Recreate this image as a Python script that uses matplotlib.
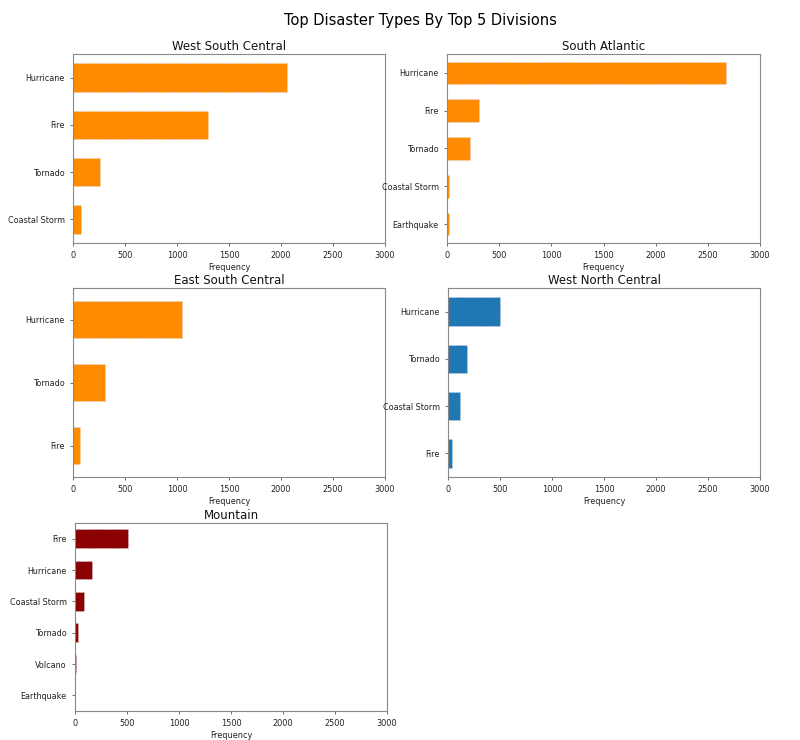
import matplotlib
matplotlib.use("Agg")
import matplotlib.pyplot as plt

divisions = ["West South Central", "South Atlantic", "East South Central",
             "West North Central", "Mountain"]

wsc_types = ["Hurricane", "Fire", "Tornado", "Coastal Storm"]
wsc_vals = [2055, 1300, 260, 77]

sa_types = ["Hurricane", "Fire", "Tornado", "Coastal Storm", "Earthquake"]
sa_vals = [2677, 311, 225, 23, 16]

esc_types = ["Hurricane", "Tornado", "Fire"]
esc_vals = [1052, 311, 64]

wnc_types = ["Hurricane", "Tornado", "Coastal Storm", "Fire"]
wnc_vals = [497, 183, 119, 35]

mtn_types = ["Fire", "Hurricane", "Coastal Storm", "Tornado", "Volcano", "Earthquake"]
mtn_vals = [507, 167, 90, 32, 7, 2]

colors = ["#ff8c00", "#ff8c00", "#ff8c00", "#1f77b4", "#8b0000"]
x_ticks = [0, 500, 1000, 1500, 2000, 2500, 3000]

W, H = 800, 740
fig = plt.figure(figsize=(8, 7.4), dpi=100)

# pixel boxes: left, top, right, bottom
boxes = [(73, 54, 385, 243), (447, 54, 760, 243), (73, 288, 385, 477),
         (448, 288, 760, 477), (75, 523, 387, 711)]
data = [(wsc_types, wsc_vals), (sa_types, sa_vals), (esc_types, esc_vals),
        (wnc_types, wnc_vals), (mtn_types, mtn_vals)]

for (l, t, r, b), (types, vals), title, col in zip(boxes, data, divisions, colors):
    ax = fig.add_axes([l / W, 1 - b / H, (r - l) / W, (b - t) / H])
    pos = list(range(len(types)))
    ax.barh(pos, vals, height=0.6, color=col, edgecolor="#dddddd",
            linestyle=":", linewidth=0.6)
    ax.set_yticks(pos)
    ax.set_yticklabels(types, fontsize=5.8, color="#222222")
    ax.set_ylim(len(types) - 0.5, -0.5)
    ax.set_xlim(0, 3000)
    ax.set_xticks(x_ticks)
    ax.tick_params(axis="x", labelsize=5.9, colors="#222222")
    ax.tick_params(axis="both", color="#555555", length=2.5, width=0.6)
    ax.set_xlabel("Frequency", fontsize=5.9, color="#222222", labelpad=2)
    ax.set_title(title, fontsize=8.5, color="#111111", pad=3)
    for s in ax.spines.values():
        s.set_color("#888888")

fig.suptitle("Top Disaster Types By Top 5 Divisions", fontsize=10.5, y=0.983, x=0.525)
fig.savefig("out.png", dpi=100)
